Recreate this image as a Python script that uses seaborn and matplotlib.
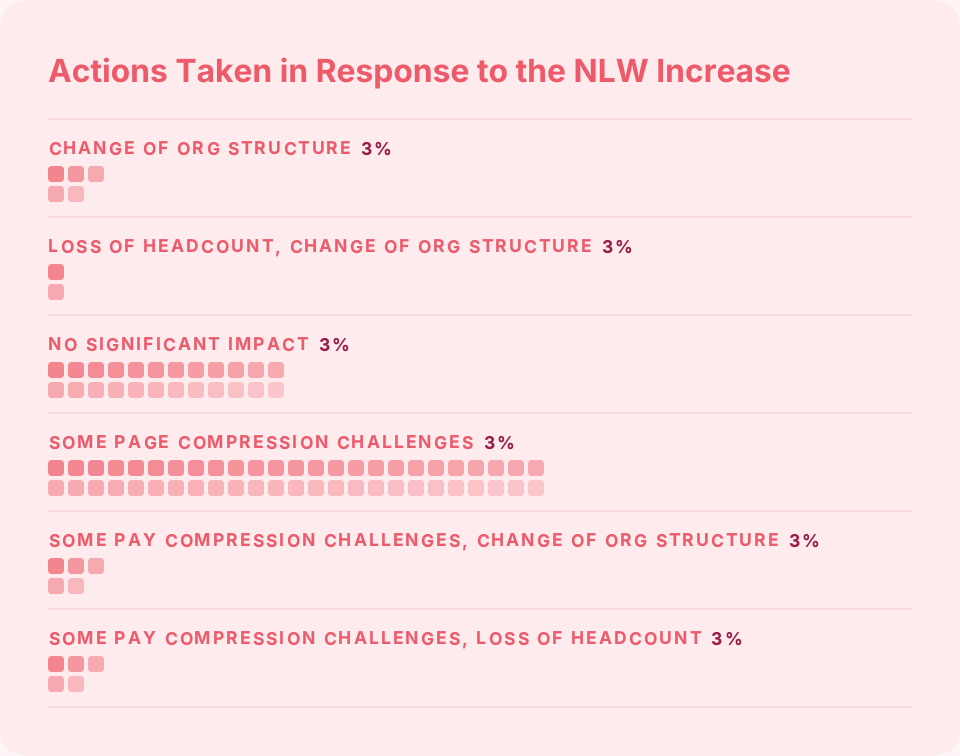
import numpy as np
import pandas as pd
import matplotlib
matplotlib.use("Agg")
import matplotlib.pyplot as plt
import seaborn as sns
from matplotlib.path import Path
from matplotlib.patches import FancyBboxPatch
from matplotlib.font_manager import FontProperties

# data
categories = [
    "CHANGE OF ORG STRUCTURE",
    "LOSS OF HEADCOUNT, CHANGE OF ORG STRUCTURE",
    "NO SIGNIFICANT IMPACT",
    "SOME PAGE COMPRESSION CHALLENGES",
    "SOME PAY COMPRESSION CHALLENGES, CHANGE OF ORG STRUCTURE",
    "SOME PAY COMPRESSION CHALLENGES, LOSS OF HEADCOUNT",
]
counts = [5, 2, 24, 50, 5, 5]
percent_labels = ["3%", "3%", "3%", "3%", "3%", "3%"]
title = "Actions Taken in Response to the NLW Increase"

# colours
OUTER = "#FFF4F5"
CARD = "#FDEBED"
RULE = "#F8DADE"
TITLE_C = "#EE5A6A"
LABEL_C = "#EC5B6B"
PCT_C = "#9A1B47"
cmap = sns.blend_palette(["#F3858F", "#F7A9B0", "#FAC6CB"], as_cmap=True)

sns.set_theme(style="white")
plt.rcParams["font.family"] = ["Inter", "DejaVu Sans"]
plt.rcParams["text.hinting"] = "no_hinting"

W, H = 960, 756
fig = plt.figure(figsize=(W / 100, H / 100), dpi=100)
fig.patch.set_facecolor(OUTER)

bg = fig.add_axes([0, 0, 1, 1])
bg.set_xlim(0, W)
bg.set_ylim(H, 0)
bg.axis("off")
bg.add_patch(FancyBboxPatch((30, 30), W - 60, H - 60,
                            boxstyle="round,pad=30,rounding_size=30",
                            facecolor=CARD, edgecolor="none"))

renderer = fig.canvas.get_renderer()


def tracked_text(x, y, text, size, color, tracking, weight="bold"):
    # matplotlib has no letter-spacing, so place each char at its
    # prefix width plus a fixed tracking
    prop = FontProperties(family="Inter", weight=weight, size=size)

    def width(s):
        return renderer.get_text_width_height_descent(s, prop, ismath=False)[0]

    ref = width("H")
    for i, ch in enumerate(text):
        if ch == " ":
            continue
        off = width(text[:i] + "H") - ref if i else 0.0
        bg.text(x + off + i * tracking, y, ch, fontproperties=prop,
                color=color, ha="left", va="center_baseline")
    return x + width(text) + (len(text) - 1) * tracking


# title
bg.text(48, 69, title, fontsize=22.9, fontweight="bold", color=TITLE_C,
        ha="left", va="center_baseline", family="Inter")


# rounded square marker
def rounded_square(r=0.45, n=8):
    verts = []
    for cx, cy, a0 in [(1 - r, 1 - r, 0), (-1 + r, 1 - r, 90),
                       (-1 + r, -1 + r, 180), (1 - r, -1 + r, 270)]:
        ang = np.radians(np.linspace(a0, a0 + 90, n))
        verts += list(zip(cx + r * np.cos(ang), cy + r * np.sin(ang)))
    verts.append(verts[0])
    codes = [Path.MOVETO] + [Path.LINETO] * (len(verts) - 2) + [Path.CLOSEPOLY]
    return Path(verts, codes)


marker = rounded_square()
cell = 20
sq_pts = 16 * 72 / 100

row_h = 98
for k, (cat, n, pct) in enumerate(zip(categories, counts, percent_labels)):
    top = 119 + k * row_h
    bg.plot([48, 912], [top, top], color=RULE, lw=1.3, solid_capstyle="butt")
    end = tracked_text(48, top + 29, cat, 12.6, LABEL_C, 2.05)
    tracked_text(end + 10, top + 29, pct, 12.6, PCT_C, 2.05)

    # waffle: top row gets the extra cell
    ntop = int(np.ceil(n / 2))
    cols = list(range(ntop)) + list(range(n - ntop))
    rows = [0] * ntop + [1] * (n - ntop)
    df = pd.DataFrame({"col": cols, "row": rows})
    span = max(ntop - 1, 1)
    df["shade"] = 0.5 * df["col"] / span + 0.5 * df["row"]

    ax_left, ax_top = 46, top + 45
    ax = fig.add_axes([ax_left / W, 1 - (ax_top + 2 * cell) / H,
                       44 * cell / W, 2 * cell / H])
    sns.scatterplot(data=df, x="col", y="row", hue="shade", palette=cmap,
                    hue_norm=(0, 1), marker=marker, s=sq_pts ** 2,
                    linewidth=0, legend=False, ax=ax)
    ax.set_xlim(-0.5, 43.5)
    ax.set_ylim(1.5, -0.5)
    ax.axis("off")

bg.plot([48, 912], [119 + 6 * row_h] * 2, color=RULE, lw=1.3)

fig.savefig("out.png", dpi=100, facecolor=OUTER)
